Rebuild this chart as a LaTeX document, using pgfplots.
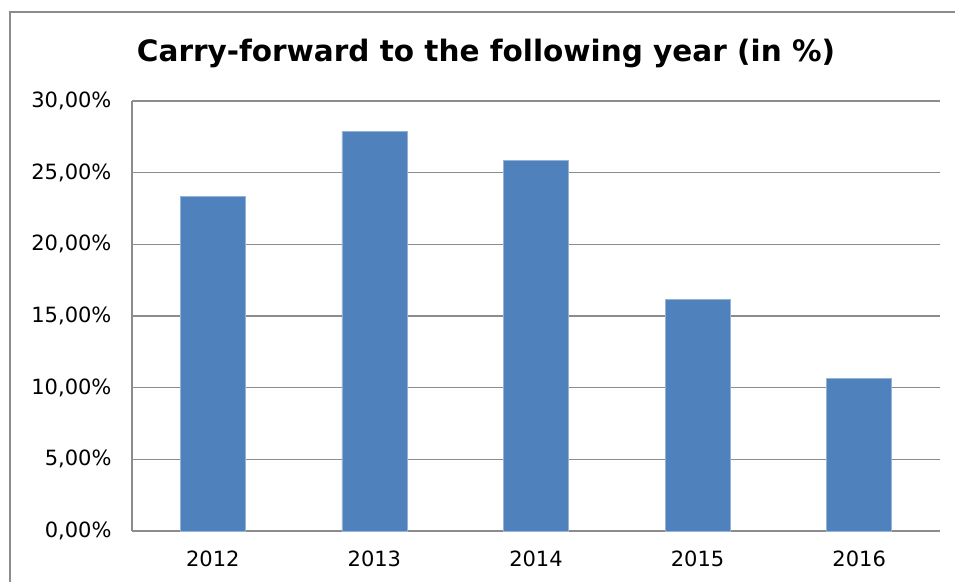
\documentclass[border=0pt]{standalone}
\usepackage{pgfplots}
\pgfplotsset{compat=1.18}
\usepackage{fontspec}
\setmainfont{DejaVu Sans}
\definecolor{barblue}{HTML}{4F81BD}
\definecolor{gridgray}{HTML}{8C8C8C}
\begin{document}
\begin{tikzpicture}
\path[use as bounding box] (0pt,0pt) rectangle (955pt,581pt);
\fill[white] (0pt,0pt) rectangle (955pt,581pt);
\draw[color=gridgray, line width=1.5pt] (10pt,-10pt) -- (10pt,569pt) -- (970pt,569pt);
\node[anchor=base, font=\fontsize{29.5}{33}\selectfont\bfseries] at (486pt,519pt) {Carry-forward to the following year (in \%)};
\begin{axis}[
  at={(132pt,50pt)}, anchor=south west,
  scale only axis, width=808pt, height=430pt,
  ybar, bar width=65pt,
  xmin=-0.5, xmax=4.5, ymin=0, ymax=30,
  xtick={0,1,2,3,4},
  xticklabels={2012,2013,2014,2015,2016},
  ytick={0,5,10,15,20,25,30},
  yticklabels={{0,00\%},{5,00\%},{10,00\%},{15,00\%},{20,00\%},{25,00\%},{30,00\%}},
  tick label style={font=\fontsize{21}{24}\selectfont},
  yticklabel style={xshift=-17pt},
  xticklabel style={yshift=-16pt},
  major tick length=0pt,
  axis x line*=bottom, axis y line*=left,
  axis line style={color=gridgray, line width=2pt, -},
  ymajorgrids, grid style={color=gridgray, line width=1.5pt},
  clip=false,
]
\addplot[fill=barblue, draw=barblue!60!white, line width=0.6pt] coordinates {(0,23.37) (1,27.86) (2,25.85) (3,16.17) (4,10.67)};
\end{axis}
\end{tikzpicture}
\end{document}
